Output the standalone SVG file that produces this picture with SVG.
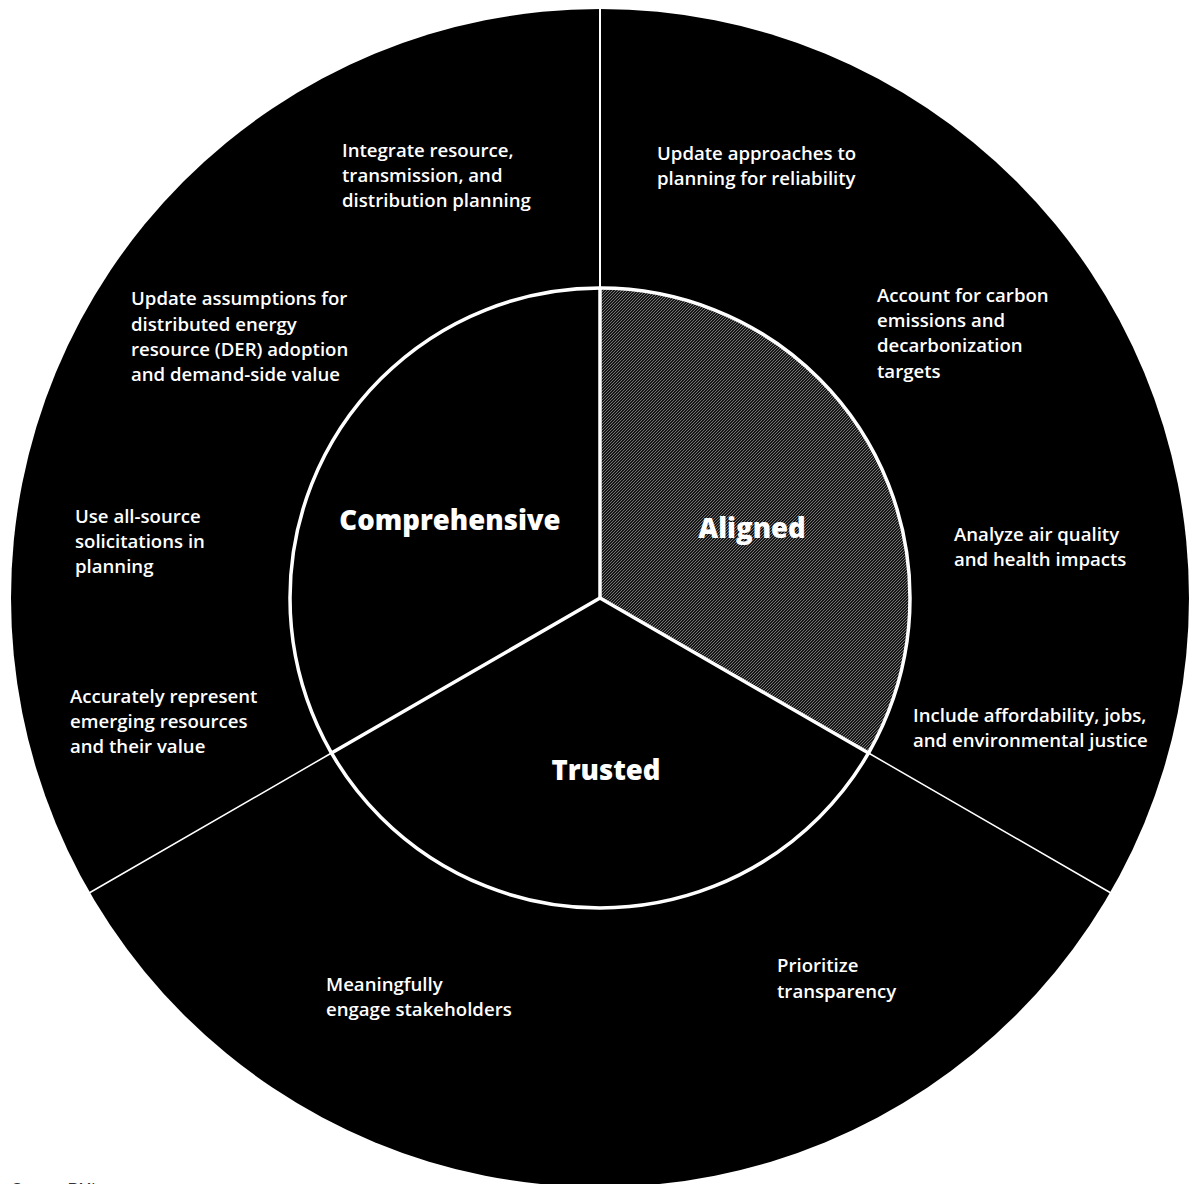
<svg xmlns="http://www.w3.org/2000/svg" width="1197" height="1184" viewBox="0 0 1197 1184">
  <style>
    .item { font-family: "Open Sans", "Noto Sans", "Liberation Sans", sans-serif; font-size: 18.6px; font-weight: 600; fill: #ffffff; }
    .pillar { font-family: "Open Sans", "Noto Sans", "Liberation Sans", sans-serif; font-size: 27.5px; font-weight: 800; fill: #ffffff; text-anchor: middle; }
    .spoke { stroke: #ffffff; stroke-linecap: round; fill: none; }
    .note { font-family: "Liberation Sans", Arial, sans-serif; font-size: 15px; fill: #333333; }
  </style>
  <defs>
    <pattern id="hatch" patternUnits="userSpaceOnUse" width="3" height="3">
      <rect width="3" height="3" fill="#161616"/>
      <path d="M-1,1 L1,-1 M0,3 L3,0 M2,4 L4,2" stroke="#7e7e7e" stroke-width="0.9"/>
    </pattern>
  </defs>

  <rect width="1197" height="1184" fill="#ffffff"/>

  <!-- outer ring -->
  <g id="outer-ring">
    <circle cx="600" cy="598" r="589" fill="#000000"/>
  </g>

  <!-- inner circle with the hatched "Aligned" sector -->
  <g id="inner-circle">
    <circle cx="600" cy="598" r="310" fill="#000000"/>
    <path d="M600,598 L600,288 A310,310 0 0 1 868.5,753 Z" fill="url(#hatch)"/>
  </g>

  <!-- dividers -->
  <g id="connectors">
    <line class="spoke" x1="600" y1="9" x2="600" y2="598" stroke-width="2"/>
    <line class="spoke" x1="331.5" y1="753" x2="90" y2="892.5" stroke-width="1.5"/>
    <line class="spoke" x1="868.5" y1="753" x2="1110" y2="892.5" stroke-width="1.5"/>
    <line class="spoke" x1="600" y1="598" x2="600" y2="288" stroke-width="3.5"/>
    <line class="spoke" x1="600" y1="598" x2="331.5" y2="753" stroke-width="3.5"/>
    <line class="spoke" x1="600" y1="598" x2="868.5" y2="753" stroke-width="3.5"/>
    <circle class="spoke" cx="600" cy="598" r="310" stroke-width="3.5"/>
  </g>

  <!-- pillar labels -->
  <g id="comprehensive"><text class="pillar" x="450" y="530">Comprehensive</text></g>
  <g id="aligned"><text class="pillar" x="752" y="538">Aligned</text></g>
  <g id="trusted"><text class="pillar" x="606" y="780">Trusted</text></g>

  <!-- practices -->
  <g id="integrate-planning">
    <text class="item" x="342" y="157">Integrate resource,</text>
    <text class="item" x="342" y="182">transmission, and</text>
    <text class="item" x="342" y="207">distribution planning</text>
  </g>
  <g id="reliability">
    <text class="item" x="657" y="160">Update approaches to</text>
    <text class="item" x="657" y="185">planning for reliability</text>
  </g>
  <g id="carbon">
    <text class="item" x="877" y="302">Account for carbon</text>
    <text class="item" x="877" y="327">emissions and</text>
    <text class="item" x="877" y="352">decarbonization</text>
    <text class="item" x="877" y="378">targets</text>
  </g>
  <g id="air-quality">
    <text class="item" x="954" y="541">Analyze air quality</text>
    <text class="item" x="954" y="566">and health impacts</text>
  </g>
  <g id="affordability">
    <text class="item" x="913" y="722">Include affordability, jobs,</text>
    <text class="item" x="913" y="747">and environmental justice</text>
  </g>
  <g id="transparency">
    <text class="item" x="777" y="972">Prioritize</text>
    <text class="item" x="777" y="998">transparency</text>
  </g>
  <g id="stakeholders">
    <text class="item" x="326" y="991">Meaningfully</text>
    <text class="item" x="326" y="1016">engage stakeholders</text>
  </g>
  <g id="emerging-resources">
    <text class="item" x="70" y="703">Accurately represent</text>
    <text class="item" x="70" y="728">emerging resources</text>
    <text class="item" x="70" y="753">and their value</text>
  </g>
  <g id="all-source">
    <text class="item" x="75" y="523">Use all-source</text>
    <text class="item" x="75" y="548">solicitations in</text>
    <text class="item" x="75" y="573">planning</text>
  </g>
  <g id="der-assumptions">
    <text class="item" x="131" y="305">Update assumptions for</text>
    <text class="item" x="131" y="331">distributed energy</text>
    <text class="item" x="131" y="356">resource (DER) adoption</text>
    <text class="item" x="131" y="381">and demand-side value</text>
  </g>

  <text class="note" x="12" y="1193">Source: RMI</text>
</svg>
